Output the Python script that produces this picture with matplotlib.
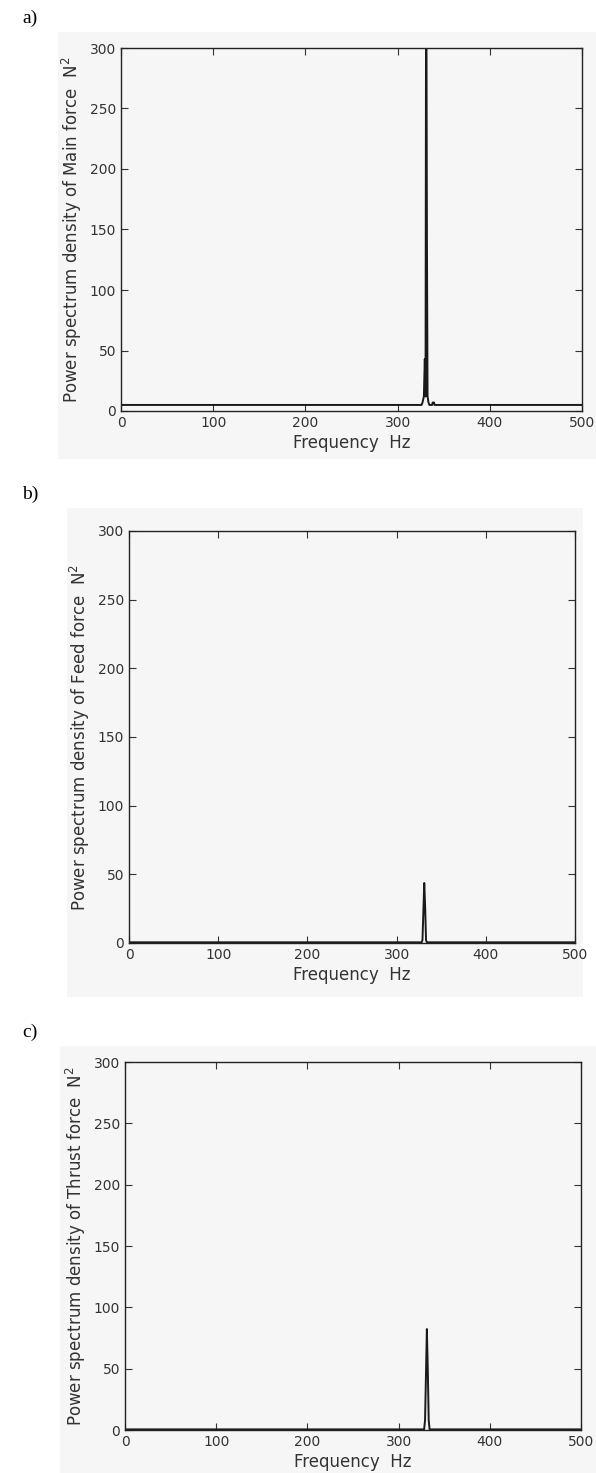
import numpy as np
import matplotlib.pyplot as plt
from matplotlib.patches import Rectangle

# spectrum samples (Hz, N^2)
freq_main = [0, 326, 327, 328.5, 329.5, 330.3, 331, 331.8, 332.5, 333.5, 334.5, 337.5, 338, 339.5, 340, 500]
psd_main = [5, 5, 7, 12, 43, 12, 420, 143, 12, 7, 5, 5, 7, 7, 5, 5]

freq_feed = [0, 328, 329, 330, 331, 332, 333, 334, 500]
psd_feed = [0.5, 0.5, 2, 22.6, 43.7, 26.2, 2, 0.5, 0.5]

freq_thrust = [0, 328, 329, 330, 331, 332, 333, 334, 500]
psd_thrust = [0.5, 0.5, 8, 44.8, 82.3, 49.7, 8, 0.5, 0.5]

x_ticks = [0, 100, 200, 300, 400, 500]
y_ticks = [0, 50, 100, 150, 200, 250, 300]

W, H = 596, 1473
BG = "#f6f6f6"

fig = plt.figure(figsize=(W / 100, H / 100), dpi=100)
fig.patch.set_facecolor("white")


def fx(x):
    return x / W


def fy(y):
    return 1 - y / H


panels = [
    # tag, label, freq, psd, grey box (l, t, r, b), axes (l, t, r, b)
    ("a)", "Main", freq_main, psd_main, (58, 32, 596, 459), (121, 48, 582, 411)),
    ("b)", "Feed", freq_feed, psd_feed, (67, 508, 583, 997), (129, 531, 575, 943)),
    ("c)", "Thrust", freq_thrust, psd_thrust, (60, 1046, 596, 1473), (125, 1062, 581, 1430)),
]

for tag, name, f, p, box, ax_px in panels:
    bl, bt, br, bb = box
    fig.patches.append(Rectangle((fx(bl), fy(bb)), fx(br - bl), (bb - bt) / H,
                                 transform=fig.transFigure, facecolor=BG,
                                 edgecolor="none", zorder=-5))
    fig.text(fx(22), fy(bt - 14), tag, family="Liberation Serif", fontsize=14,
             ha="left", va="center")

    l, t, r, b = ax_px
    ax = fig.add_axes([fx(l), fy(b), fx(r - l), (b - t) / H])
    ax.set_zorder(2)
    ax.set_facecolor(BG)
    ax.plot(f, p, color="#1a1a1a", linewidth=1.4)
    ax.set_xlim(0, 500)
    ax.set_ylim(0, 300)
    ax.set_xticks(x_ticks)
    ax.set_yticks(y_ticks)
    ax.tick_params(direction="in", top=True, right=True, length=5, width=0.8,
                   labelsize=10, colors="#333333")
    for s in ax.spines.values():
        s.set_linewidth(1.0)
        s.set_color("#222222")
    ax.set_xlabel("Frequency  Hz", fontsize=12, color="#333333", labelpad=3)
    ax.set_ylabel("Power spectrum density of %s force  N$^2$" % name,
                  fontsize=12, color="#333333", labelpad=4)

fig.savefig("out.png", dpi=100)
